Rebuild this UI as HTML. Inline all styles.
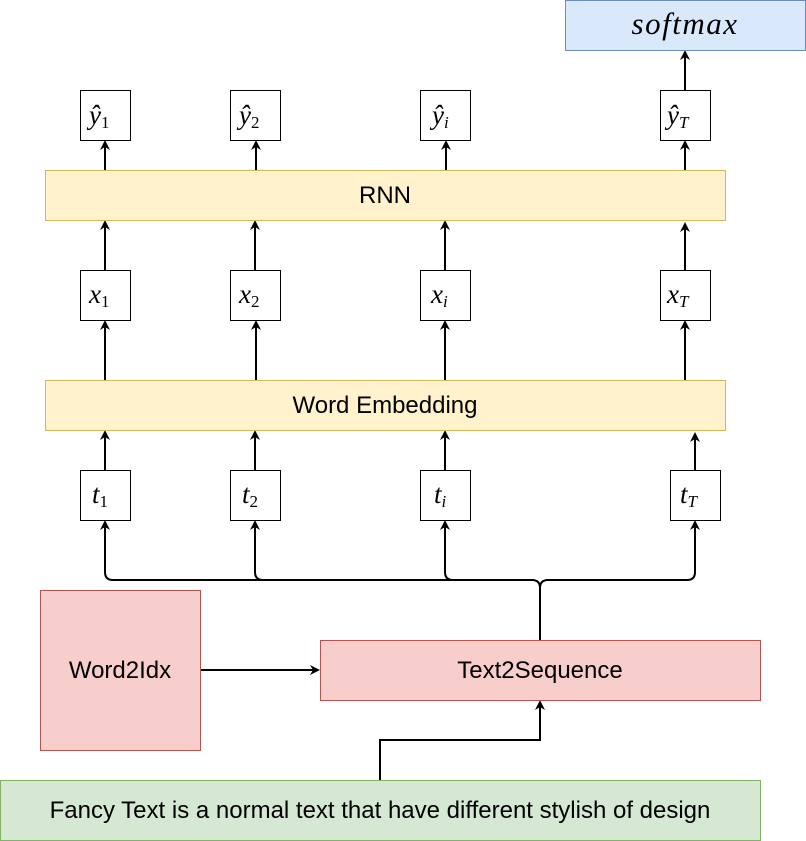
<!DOCTYPE html>
<html><head><meta charset="utf-8"><style>
html,body{margin:0;padding:0;background:#fff;}
svg{display:block;}
.m{font-family:"Liberation Serif",serif;font-style:italic;font-size:27px;}
.s{font-size:17px;}
.l{font-family:"Liberation Sans",sans-serif;font-size:24px;}
</style></head><body>
<svg width="806" height="841" viewBox="0 0 806 841" xmlns="http://www.w3.org/2000/svg">
<defs><marker id="a" markerWidth="10" markerHeight="10" refX="8" refY="5" orient="auto" markerUnits="userSpaceOnUse"><path d="M0,0 L10,5 L0,10 L3,5 z" fill="#000"/></marker></defs>
<g stroke="#000" stroke-width="2" fill="none">
<line x1="685" y1="90" x2="685" y2="52" marker-end="url(#a)"/>
<line x1="105" y1="170" x2="105" y2="142" marker-end="url(#a)"/>
<line x1="256" y1="170" x2="256" y2="142" marker-end="url(#a)"/>
<line x1="446" y1="170" x2="446" y2="142" marker-end="url(#a)"/>
<line x1="685" y1="170" x2="685" y2="142" marker-end="url(#a)"/>
<line x1="105" y1="270" x2="105" y2="222" marker-end="url(#a)"/>
<line x1="255" y1="270" x2="255" y2="222" marker-end="url(#a)"/>
<line x1="445" y1="270" x2="445" y2="222" marker-end="url(#a)"/>
<line x1="685" y1="270" x2="685" y2="224" marker-end="url(#a)"/>
<line x1="105" y1="380" x2="105" y2="322" marker-end="url(#a)"/>
<line x1="256" y1="380" x2="256" y2="322" marker-end="url(#a)"/>
<line x1="445" y1="380" x2="445" y2="322" marker-end="url(#a)"/>
<line x1="685" y1="380" x2="685" y2="322" marker-end="url(#a)"/>
<line x1="105" y1="470" x2="105" y2="432" marker-end="url(#a)"/>
<line x1="255" y1="470" x2="255" y2="432" marker-end="url(#a)"/>
<line x1="445" y1="470" x2="445" y2="432" marker-end="url(#a)"/>
<line x1="695" y1="470" x2="695" y2="434" marker-end="url(#a)"/>
<path d="M540,640 L540,588 Q540,580 532,580 L113,580 Q105,580 105,572 L105,522" marker-end="url(#a)"/>
<path d="M263,580 Q255,580 255,572 L255,522" marker-end="url(#a)"/>
<path d="M453,580 Q445,580 445,572 L445,522" marker-end="url(#a)"/>
<path d="M540,588 Q540,580 548,580 L687,580 Q695,580 695,572 L695,522" marker-end="url(#a)"/>
<line x1="200" y1="670" x2="318" y2="670" marker-end="url(#a)"/>
<path d="M380,780 L380,740 L540,740 L540,702" marker-end="url(#a)"/>
</g>
<rect x="565.5" y="0.5" width="240" height="50" fill="#dae8fc" stroke="#6c8ebf"/>
<text x="685" y="34" text-anchor="middle" class="m" style="font-size:31px;letter-spacing:1.5px">softmax</text>
<g fill="#fff" stroke="#000">
<rect x="80.5" y="90.5" width="50" height="50"/><rect x="230.5" y="90.5" width="50" height="50"/><rect x="420.5" y="90.5" width="50" height="50"/><rect x="660.5" y="90.5" width="50" height="50"/>
<rect x="80.5" y="270.5" width="50" height="50"/><rect x="230.5" y="270.5" width="50" height="50"/><rect x="420.5" y="270.5" width="50" height="50"/><rect x="660.5" y="270.5" width="50" height="50"/>
<rect x="80.5" y="470.5" width="50" height="50"/><rect x="230.5" y="470.5" width="50" height="50"/><rect x="420.5" y="470.5" width="50" height="50"/><rect x="670.5" y="470.5" width="50" height="50"/>
</g>
<rect x="45.5" y="170.5" width="680" height="50" fill="#fff2cc" stroke="#d6b656"/>
<text x="385" y="203" text-anchor="middle" class="l">RNN</text>
<rect x="45.5" y="380.5" width="680" height="50" fill="#fff2cc" stroke="#d6b656"/>
<text x="385" y="413" text-anchor="middle" class="l">Word Embedding</text>
<g class="m">
<text x="89" y="124">ŷ<tspan class="s" dy="4" font-style="normal">1</tspan></text>
<text x="239" y="124">ŷ<tspan class="s" dy="4" font-style="normal">2</tspan></text>
<text x="432" y="124">ŷ<tspan class="s" dy="4">i</tspan></text>
<text x="667" y="124">ŷ<tspan class="s" dy="4">T</tspan></text>
<text x="89" y="303">x<tspan class="s" dy="4" font-style="normal">1</tspan></text>
<text x="239" y="303">x<tspan class="s" dy="4" font-style="normal">2</tspan></text>
<text x="431" y="303">x<tspan class="s" dy="4">i</tspan></text>
<text x="667" y="303">x<tspan class="s" dy="4">T</tspan></text>
<text x="92" y="503">t<tspan class="s" dy="4" font-style="normal">1</tspan></text>
<text x="242" y="503">t<tspan class="s" dy="4" font-style="normal">2</tspan></text>
<text x="434" y="503">t<tspan class="s" dy="4">i</tspan></text>
<text x="680" y="503">t<tspan class="s" dy="4">T</tspan></text>
</g>
<rect x="40.5" y="590.5" width="160" height="160" fill="#f8cecc" stroke="#b85450"/>
<text x="120" y="678" text-anchor="middle" class="l">Word2Idx</text>
<rect x="320.5" y="640.5" width="440" height="60" fill="#f8cecc" stroke="#b85450"/>
<text x="540" y="678" text-anchor="middle" class="l">Text2Sequence</text>
<rect x="0.5" y="780.5" width="760" height="60" fill="#d5e8d4" stroke="#82b366"/>
<text x="380" y="818" text-anchor="middle" class="l">Fancy Text is a normal text that have different stylish of design</text>
</svg>
</body></html>
